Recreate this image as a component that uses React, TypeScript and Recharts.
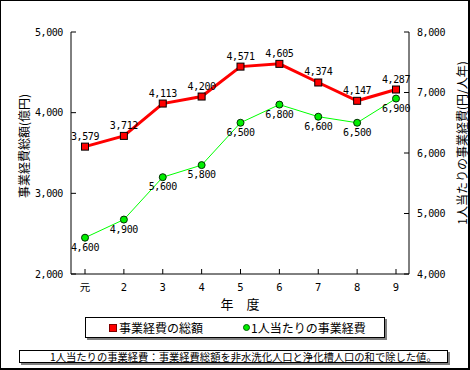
import React from 'react';
import { LineChart, Line, XAxis, YAxis, Legend, LabelList } from 'recharts';

const years = ['元', '2', '3', '4', '5', '6', '7', '8', '9'];
const totalCost = [3579, 3712, 4113, 4200, 4571, 4605, 4374, 4147, 4287];
const perCapita = [4600, 4900, 5600, 5800, 6500, 6800, 6600, 6500, 6900];
const leftTicks = [2000, 3000, 4000, 5000];
const rightTicks = [4000, 5000, 6000, 7000, 8000];
const seriesNames = ['事業経費の総額', '1人当たりの事業経費'];
const seriesKeys = ['total', 'per'];
const leftTitle = '事業経費総額(億円)';
const rightTitle = '1人当たりの事業経費(円/人年)';
const xTitle = '年　度';
const note = '1人当たりの事業経費：事業経費総額を非水洗化人口と浄化槽人口の和で除した値。';

const data = years.map((y, i) => ({ year: y, total: totalCost[i], per: perCapita[i] }));

const fmt = (v: any) => Number(v).toLocaleString('en-US');
const NUM_FONT = '"DejaVu Sans Mono", "Noto Sans CJK JP", monospace';
const JP_FONT = '"Noto Sans CJK JP", sans-serif';

const numTick = { fill: '#000', fontSize: 10, fontFamily: NUM_FONT, letterSpacing: -0.4 };

const RedSquare = (p: any) => {
  if (p.cx == null || p.cy == null) return null;
  return (
    <rect key={`sq-${p.index}`} x={p.cx - 3.5} y={p.cy - 3.5} width={7} height={7} fill="#ff0000" stroke="#000" strokeWidth={1} />
  );
};

const renderLegend = (props: any) => {
  const payload = [...(props.payload || [])].sort(
    (a: any, b: any) => seriesKeys.indexOf(a.dataKey) - seriesKeys.indexOf(b.dataKey)
  );
  return (
    <div
      style={{
        boxSizing: 'border-box',
        width: 300,
        height: 21,
        border: '1px solid #000',
        background: '#fff',
        boxShadow: '2px 2px 0 #808080',
        display: 'flex',
        alignItems: 'center',
        fontFamily: JP_FONT,
        fontSize: 12,
        color: '#000',
      }}
    >
      {payload.map((e: any, i: number) => (
        <div key={i} style={{ display: 'flex', alignItems: 'center', marginLeft: i === 0 ? 23 : 40 }}>
          {e.dataKey === 'total' ? (
            <span style={{ display: 'inline-block', width: 6, height: 6, background: '#ff0000', border: '1px solid #800000', marginRight: 2 }} />
          ) : (
            <span style={{ display: 'inline-block', width: 5, height: 5, borderRadius: '50%', background: '#00ee00', border: '1px solid #006000', marginRight: 1 }} />
          )}
          <span style={{ lineHeight: '14px' }}>{e.value}</span>
        </div>
      ))}
    </div>
  );
};

export default function App() {
  return (
    <div style={{ position: 'absolute', left: 0, top: 0, width: 470, height: 370, background: '#fff' }}>
      <LineChart
        width={470}
        height={370}
        data={data}
        margin={{ top: 32, right: 11, bottom: 66, left: 11 }}
      >
        <XAxis
          dataKey="year"
          padding={{ left: 14, right: 13 }}
          height={30}
          stroke="#000"
          tickSize={-5}
          tickMargin={15}
          tick={{ fill: '#000', fontSize: 10.5, fontFamily: NUM_FONT }}
          interval={0}
          label={{ value: xTitle, position: 'center', dy: 15, fill: '#000', fontSize: 13, fontFamily: JP_FONT }}
        />
        <XAxis
          xAxisId="top"
          orientation="top"
          dataKey="year"
          padding={{ left: 14, right: 13 }}
          height={0}
          stroke="#000"
          tick={false}
          tickLine={false}
        />
        <YAxis
          yAxisId="left"
          domain={[2000, 5000]}
          ticks={leftTicks}
          width={60}
          stroke="#000"
          tickSize={-5}
          tickMargin={13}
          tickFormatter={fmt}
          tick={numTick}
          allowDataOverflow
          label={{ value: leftTitle, angle: -90, position: 'center', dx: -16, dy: -7, fill: '#000', fontSize: 12, fontFamily: JP_FONT }}
        />
        <YAxis
          yAxisId="right"
          orientation="right"
          domain={[4000, 8000]}
          ticks={rightTicks}
          width={50}
          stroke="#000"
          tickSize={-5}
          tickMargin={13}
          tickFormatter={fmt}
          tick={numTick}
          allowDataOverflow
          label={{ value: rightTitle, angle: -90, position: 'center', dx: 29, dy: -10, fill: '#000', fontSize: 12, fontFamily: JP_FONT }}
        />
        <Legend
          layout="horizontal"
          verticalAlign="middle"
          align="center"
          content={renderLegend}
          wrapperStyle={{ left: 85, top: 317, width: 300, height: 21 }}
        />
        <Line
          yAxisId="right"
          dataKey="per"
          name={seriesNames[1]}
          stroke="#00ff00"
          strokeWidth={1}
          dot={{ r: 3.5, fill: '#00ee00', stroke: '#003000', strokeWidth: 1 }}
          activeDot={false}
          isAnimationActive={false}
        >
          <LabelList dataKey="per" position="bottom" offset={6} formatter={fmt} fill="#000" fontSize={10} fontFamily={NUM_FONT} letterSpacing={-0.4} />
        </Line>
        <Line
          yAxisId="left"
          dataKey="total"
          name={seriesNames[0]}
          stroke="#ff0000"
          strokeWidth={3}
          dot={RedSquare}
          activeDot={false}
          isAnimationActive={false}
        >
          <LabelList dataKey="total" position="top" offset={7} formatter={fmt} fill="#000" fontSize={10} fontFamily={NUM_FONT} letterSpacing={-0.4} />
        </Line>
      </LineChart>
      <div
        style={{
          position: 'absolute',
          left: 19,
          top: 350,
          width: 429,
          height: 13,
          boxSizing: 'border-box',
          border: '1px solid #000',
          background: '#fff',
          boxShadow: '2px 2px 0 #808080',
          fontFamily: JP_FONT,
          fontSize: 10.3,
          lineHeight: '11px',
          paddingLeft: 30,
          whiteSpace: 'nowrap',
          overflow: 'hidden',
          color: '#000',
        }}
      >
        {note}
      </div>
      <div
        style={{
          position: 'absolute',
          left: 0,
          top: 0,
          width: 470,
          height: 370,
          boxSizing: 'border-box',
          borderTop: '1px solid #000',
          borderLeft: '1px solid #000',
          borderRight: '2px solid #000',
          borderBottom: '2px solid #000',
          pointerEvents: 'none',
        }}
      />
    </div>
  );
}
